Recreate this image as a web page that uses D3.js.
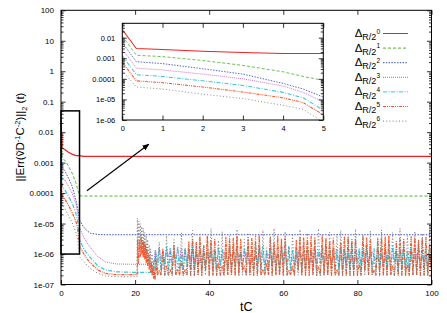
<!DOCTYPE html>
<html><head><meta charset="utf-8">
<script src="https://cdn.jsdelivr.net/npm/d3@7"></script>
<style>body{margin:0;background:#fff} svg{display:block;font-family:"Liberation Sans",Arial,Helvetica,sans-serif}</style>
</head><body><svg id="c" width="447" height="313"></svg>
<script>
// ---------------- DATA ----------------
const seriesNames = ["0","1","2","3","4","5","6"]; // Δ_{R/2^k}
const xTicks = [0,20,40,60,80,100];
const yMajor = [100,10,1,0.1,0.01,0.001,0.0001,1e-5,1e-6,1e-7];
const yMajorLabels = ["100","10","1","0.1","0.01","0.001","0.0001","1e-05","1e-06","1e-07"];
const insetXTicks = [0,1,2,3,4,5];
const insetYMajor = [0.01,0.001,0.0001,1e-5,1e-6];
const insetYLabels = ["0.01","0.001","0.0001","1e-05","1e-06"];

// smooth parts
const redT = [0,0.35,1,2,3,4,5,6,100];
const redV = [0.025,0.003,0.0027,0.0022,0.0019,0.0017,0.0017,0.0016,0.0016];
const greenT = [0,0.35,1,2,3,4,4.5,5,5.5,100];
const greenV = [0.012,0.0014,0.0012,0.00078,0.00045,0.00022,0.00013,0.000085,0.00008,0.00008];
const blueT = [0,0.35,1,2,3,4,4.5,5,6,7,8,10,12,100];
const blueV = [0.0057,0.00068,0.00055,0.00031,0.00017,0.00006,0.000032,0.000013,8e-6,5.8e-6,4.8e-6,4.4e-6,4.3e-6,4.3e-6];
const magentaT = [0,0.35,1,2,3,4,4.5,5,6,7,8,10,12,15,20,25];
const magentaV = [0.0028,0.00033,0.00027,0.00017,0.0001,4.5e-5,2.2e-5,7.6e-6,3.8e-6,2.4e-6,1.6e-6,8e-7,5.5e-7,4.7e-7,4.6e-7,4.6e-7];
const cyanT = [0,0.35,1,2,3,4,4.5,5,6,7,8,10,12,15,20,25];
const cyanV = [0.0013,0.00016,0.00013,8e-5,4.8e-5,2.2e-5,1.2e-5,3e-6,1.6e-6,1.05e-6,7.5e-7,4e-7,3e-7,2.6e-7,2.5e-7,2.5e-7];
const orangeT = [0,0.35,1,2,3,4,4.5,5,6,7,8,10,12,15,20.5];
const orangeV = [0.00063,8e-5,6.5e-5,4e-5,2.3e-5,1.2e-5,7e-6,1.8e-6,1.1e-6,7e-7,5e-7,3e-7,2.3e-7,2.1e-7,2.1e-7];
const greyT = [0,0.35,1,2,3,4,4.5,5,6,7,8,10,12,15,20.4];
const greyV = [0.00025,4e-5,3.2e-5,1.8e-5,1.1e-5,5.2e-6,3.3e-6,8e-7,6e-7,4.3e-7,3.3e-7,2.3e-7,1.9e-7,1.8e-7,1.8e-7];

// transient around tC≈21–25 (values in units of 1e-7)
const greyTrT = [20.5,20.6,20.8,21.0,21.2,21.4,21.6,21.8,22.0,22.2,22.4,22.6,22.8,23.0,23.2,23.4,23.6,23.8,24.0,24.2,24.4,24.6,24.8,25.0,25.2,25.4];
const greyTrE7 = [1.8,150,20,120,25,100,20,80,15,70,12,50,9,40,7,30,5,20,4,15,3,10,2.2,6,1.5,1.4];
const orangeTrT = [20.6,20.7,20.9,21.2,21.4,21.6,21.8,22.0,22.2,22.4,22.6,22.8,23.0,23.2,23.4,23.6,23.8,24.0,24.2,24.4,24.6,24.8,25.0,25.2,25.4];
const orangeTrE7 = [2.1,30,5,25,8,40,10,30,8,25,7,20,5,15,4,10,3,8,2.5,5,2,4,1.6,2.5,1.5];

// noisy regime tC = 25.5 … 100 every 0.5 (values in units of 1e-7)
const tNoise = d3.range(150).map(i => 25.5 + 0.5 * i);
const cyanNoiseE7 = [
14,3,16,3,12,4,17,3,15,3,13,5,18,3,11,3,16,4,14,3,
17,3,12,4,15,3,18,3,13,5,16,3,12,3,17,4,14,3,15,3,
16,3,13,4,18,3,12,3,15,5,17,3,14,3,11,4,16,3,18,3,
13,3,15,4,17,3,12,3,16,5,14,3,18,3,13,4,15,3,17,3,
12,3,16,4,14,3,18,3,13,5,15,3,17,3,12,4,16,3,14,3,
18,3,13,4,15,3,17,3,12,5,16,3,14,3,18,4,13,3,15,3,
17,3,12,4,16,3,14,3,18,5,13,3,15,4,17,3,12,3,16,5,
14,3,18,3,13,4,15,3,17,3];
const orangeNoiseE7 = [
8,2,3,2,15,2,4,2,3,2,20,2,3,2,6,2,3,2,25,2,
30,2,25,2,35,2,20,3,40,2,28,2,30,2,5,2,4,2,35,2,
28,2,33,2,38,2,30,3,4,2,30,2,35,2,25,2,40,2,3,2,
5,2,36,2,25,2,38,2,30,2,34,2,3,2,4,2,28,3,35,2,
36,2,30,2,38,2,33,2,4,2,40,2,32,2,26,2,33,2,3,2,
24,2,38,2,35,2,30,2,30,2,5,2,36,3,34,2,28,2,3,2,
30,2,34,2,36,2,40,2,4,2,26,2,33,2,32,2,5,2,37,2,
35,2,28,2,31,2,35,2,20,2];
const greyNoiseE7 = [
10,2,25,2,8,2,40,2,12,2,30,2,6,2,50,2,15,2,20,2,
60,2,18,2,45,2,10,2,35,2,70,2,14,2,28,2,55,2,9,2,
40,2,22,2,65,2,12,2,30,2,50,2,8,2,45,2,20,2,60,2,
16,2,38,2,70,2,11,2,26,2,55,2,18,2,42,2,9,2,64,2,
24,2,48,2,13,2,35,2,68,2,20,2,30,2,52,2,10,2,45,2,
60,2,15,2,38,2,25,2,66,2,12,2,44,2,20,2,58,2,9,2,
36,2,62,2,17,2,28,2,50,2,11,2,70,2,22,2,40,2,14,2,
56,2,26,2,48,2,10,2,60,2];
const magentaNoiseE7 = [14,6,16,7,13,6,15,8,16,6,12,7,15,6,16,7,13,6,14,7,16,6,12,7,5]; // tC 25.5…37.5
const tMagTail = d3.range(63).map(i => 38 + i);
const magentaTailE7 = [9,5,11,6,8,5,12,6,10,5,9,6,11,5,8,6,12,5,10,6,9,5,11,6,8,5,12,6,10,5,9,6,11,5,8,6,12,5,10,6,9,5,11,6,8,5,12,6,10,5,9,6,11,5,8,6,12,5,10,6,9,5,11];

const colors = ["#ee2222","#4cb82c","#3349c4","#c860c8","#40c4d8","#ff5526","#7a7a7a"];
const dashes = [null,"3,2","1.4,1.4","1,1","4,1.5,1,1.5","3,1,1,1,1,1","1,2.2"];
const widths = [1.2,1,1,1,1.2,1.25,1];

// ---------------- BUILD ----------------
const zip = (T,V,k=1) => T.map((t,i)=>[t,V[i]*k]);
const E7 = 1e-7;
const series = [
  zip(redT,redV),
  zip(greenT,greenV),
  zip(blueT,blueV),
  zip(magentaT,magentaV).concat(zip(tNoise.slice(0,25),magentaNoiseE7,E7), zip(tMagTail,magentaTailE7,E7)),
  zip(cyanT,cyanV).concat(zip(tNoise,cyanNoiseE7,E7)),
  zip(orangeT,orangeV).concat(zip(orangeTrT,orangeTrE7,E7), zip(tNoise,orangeNoiseE7,E7)),
  zip(greyT,greyV).concat(zip(greyTrT,greyTrE7,E7), zip(tNoise,greyNoiseE7,E7))
];

const svg = d3.select("#c");
const X0=61, X1=431.5, Y0=10.3, Y1=284.5;
const mx = d3.scaleLinear().domain([0,100]).range([X0,X1]);
const my = d3.scaleLog().domain([1e-7,100]).range([Y1,Y0]);
const IX0=122.3, IX1=323.3, IY0=23.3, IY1=120;
const ix = d3.scaleLinear().domain([0,5]).range([IX0,IX1]);
const iy = d3.scaleLog().domain([1e-6,0.05]).range([IY1,IY0]);

const defs = svg.append("defs");
defs.append("clipPath").attr("id","mclip").append("rect").attr("x",X0).attr("y",Y0).attr("width",X1-X0).attr("height",Y1-Y0);
defs.append("clipPath").attr("id","iclip").append("rect").attr("x",IX0).attr("y",IY0).attr("width",IX1-IX0).attr("height",IY1-IY0);
defs.append("marker").attr("id","arr").attr("viewBox","0 0 10 10").attr("refX",9).attr("refY",5)
  .attr("markerWidth",7).attr("markerHeight",7).attr("markerUnits","userSpaceOnUse").attr("orient","auto")
  .append("path").attr("d","M0,1 L10,5 L0,9 Z").attr("fill","#000");

const isMajor = d => Math.abs(Math.log10(d)-Math.round(Math.log10(d)))<1e-6;

function styleAxis(g, fs){
  g.select(".domain").remove();
  g.selectAll("line").attr("stroke","#000").attr("stroke-width",0.8);
  g.selectAll("text").attr("font-size",fs).attr("font-family","'Liberation Sans',Arial,sans-serif").attr("fill","#000");
  g.attr("font-size",null).attr("font-family",null);
}

function drawPanel(sx, sy, x0,x1,y0,y1, xT, yT, yL, fs, clip, sw){
  const g = svg.append("g");
  g.append("rect").attr("x",x0).attr("y",y0).attr("width",x1-x0).attr("height",y1-y0).attr("fill","#fff");
  const minors = sy.ticks().filter(d=>!isMajor(d));
  const line = d3.line().x(d=>sx(d[0])).y(d=>sy(d[1]));
  const dg = g.append("g").attr("clip-path",`url(#${clip})`);
  series.forEach((s,i)=>{
    dg.append("path").datum(s).attr("d",line).attr("fill","none").attr("stroke",colors[i])
      .attr("stroke-width",widths[i]*sw).attr("stroke-dasharray",dashes[i]).attr("stroke-linejoin","round");
  });
  g.append("g").attr("transform",`translate(0,${y1})`).call(d3.axisBottom(sx).tickValues(xT).tickFormat(d3.format("d")).tickSizeInner(-4.5).tickSizeOuter(0).tickPadding(fs*0.75)).call(a=>styleAxis(a,fs));
  g.append("g").attr("transform",`translate(0,${y0})`).call(d3.axisTop(sx).tickValues(xT).tickFormat("").tickSizeInner(-4.5).tickSizeOuter(0)).call(a=>styleAxis(a,fs));
  g.append("g").attr("transform",`translate(${x0},0)`).call(d3.axisLeft(sy).tickValues(yT).tickFormat((d,i)=>yL[i]).tickSizeInner(-4.5).tickSizeOuter(0).tickPadding(7)).call(a=>styleAxis(a,fs));
  g.append("g").attr("transform",`translate(${x0},0)`).call(d3.axisLeft(sy).tickValues(minors).tickFormat("").tickSizeInner(-2.5).tickSizeOuter(0)).call(a=>styleAxis(a,fs));
  g.append("g").attr("transform",`translate(${x1},0)`).call(d3.axisRight(sy).tickValues(yT).tickFormat("").tickSizeInner(-4.5).tickSizeOuter(0)).call(a=>styleAxis(a,fs));
  g.append("g").attr("transform",`translate(${x1},0)`).call(d3.axisRight(sy).tickValues(minors).tickFormat("").tickSizeInner(-2.5).tickSizeOuter(0)).call(a=>styleAxis(a,fs));
  g.append("rect").attr("x",x0).attr("y",y0).attr("width",x1-x0).attr("height",y1-y0).attr("fill","none").attr("stroke","#000").attr("stroke-width",1);
  return g;
}

drawPanel(mx,my,X0,X1,Y0,Y1,xTicks,yMajor,yMajorLabels,8,"mclip",1);

// zoom rectangle + arrow
svg.append("rect").attr("x",mx(0)).attr("y",my(0.05)).attr("width",mx(5)-mx(0)).attr("height",my(1e-6)-my(0.05))
  .attr("fill","none").attr("stroke","#000").attr("stroke-width",1.5);
svg.append("line").attr("x1",mx(7)).attr("y1",my(0.00012)).attr("x2",mx(23.7)).attr("y2",my(0.004))
  .attr("stroke","#000").attr("stroke-width",1.1).attr("marker-end","url(#arr)");

drawPanel(ix,iy,IX0,IX1,IY0,IY1,insetXTicks,insetYMajor,insetYLabels,7.5,"iclip",0.85);

// legend
const LX=380, LY=33.5, LDY=14.6;
seriesNames.forEach((k,i)=>{
  const y = LY + i*LDY;
  const t = svg.append("text").attr("x",LX).attr("y",y+3.5).attr("text-anchor","end").attr("fill","#000");
  t.append("tspan").attr("font-size",11.5).text("Δ");
  t.append("tspan").attr("font-size",9).attr("dy",3.2).text("R/2");
  t.append("tspan").attr("font-size",6.5).attr("dy",-6.5).text(k);
  svg.append("line").attr("x1",383).attr("x2",408).attr("y1",y).attr("y2",y)
    .attr("stroke",colors[i]).attr("stroke-width",1).attr("stroke-dasharray",dashes[i]);
});

// axis titles
svg.append("text").attr("x",(X0+X1)/2).attr("y",310.5).attr("text-anchor","middle").attr("font-size",12.5).text("tC");
const yl = svg.append("text").attr("transform","translate(24,137) rotate(-90)").attr("text-anchor","middle").attr("font-size",11.5);
yl.append("tspan").text("||Err(ṽD");
yl.append("tspan").attr("font-size",7.5).attr("dy",-4).text("-1");
yl.append("tspan").attr("dy",4).text("C");
yl.append("tspan").attr("font-size",7.5).attr("dy",-4).text("-2");
yl.append("tspan").attr("dy",4).text(")||");
yl.append("tspan").attr("font-size",7.5).attr("dy",3).text("2");
yl.append("tspan").attr("dy",-3).text(" (t)");
</script></body></html>
